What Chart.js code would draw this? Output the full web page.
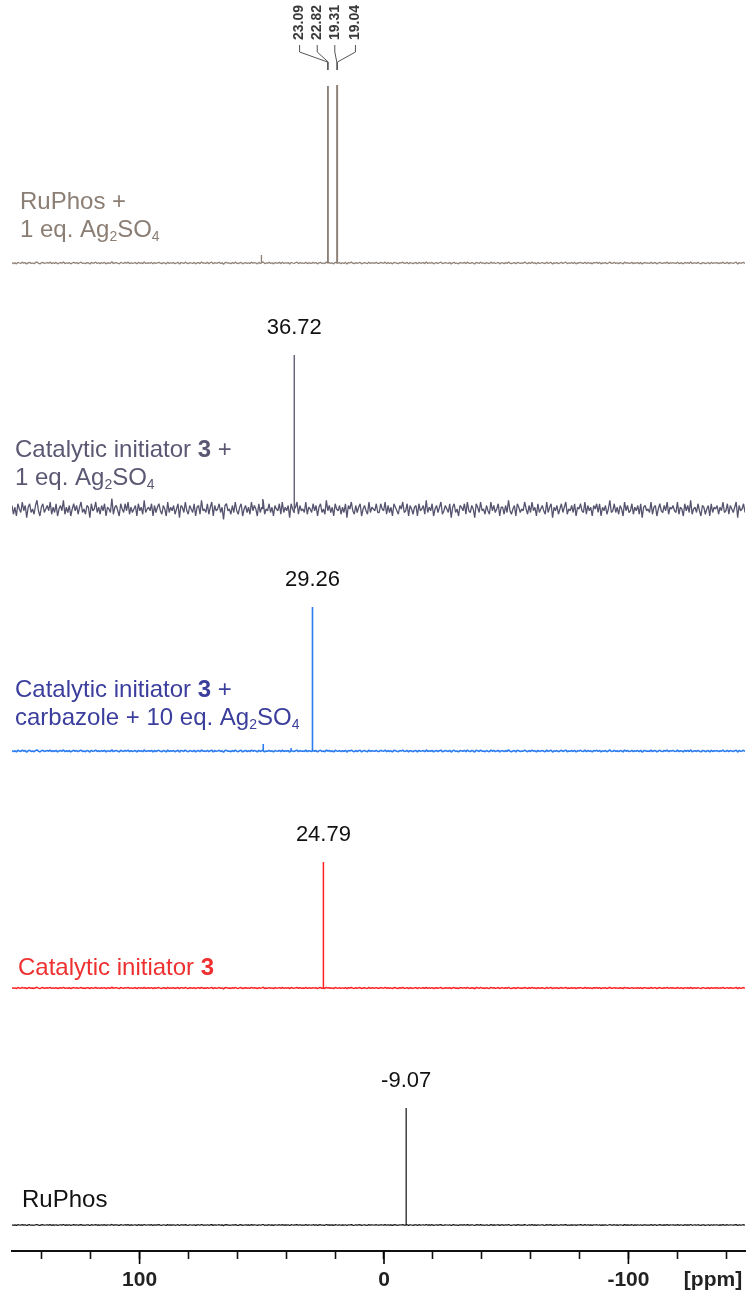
<!DOCTYPE html>
<html>
<head>
<meta charset="utf-8">
<script src="https://cdn.jsdelivr.net/npm/chart.js@4.4.1/dist/chart.umd.min.js"></script>
<style>
  html, body { margin: 0; padding: 0; background: #fff; }
</style>
</head>
<body>
<canvas id="nmr" width="748" height="1291"></canvas>
<script>
// ppm window of the spectra (axis is reversed, high ppm on the left)
const PPM_MAX = 152.2;
const PPM_MIN = -147.7;

const AXIS_TICKS = [140, 120, 100, 80, 60, 40, 20, 0, -20, -40, -60, -80, -100, -120, -140];
const AXIS_LABELS = [100, 0, -100];

// peak shifts (ppm) and heights for each trace, top to bottom
const ruphosAgShifts = [23.09, 22.82, 19.31, 19.04, 50.2];
const ruphosAgHeights = [177, 177, 178, 178, 8];

const catAgShifts = [36.72, 49.6];
const catAgHeights = [154, 10];

const catCarbShifts = [29.26, 49.4, 38.0];
const catCarbHeights = [144, 7, 3];

const catShifts = [24.79];
const catHeights = [126];

const ruphosShifts = [-9.07];
const ruphosHeights = [117];

// baseline noise, scaled per trace
const NOISE = [
  2,-3,1,-4,3,0,-2,4,-1,2,-5,1,3,-2,0,-3,2,5,-1,-4,1,3,-2,0,2,
  -1,4,-3,1,-2,3,-4,0,2,-1,5,-3,1,-2,2,-4,0,3,-1,2,-3,1,4,-2,0,
  -3,2,1,-5,3,-1,0,4,-2,1,-3,2,-1,3,-4,1,0,-2,6,-3,1,2,-1,-4,3,
  0,-2,3,-1,4,-3,1,-2,0,2,-4,3,-1,1,-3,5,-2,0,1,-1,3,-4,2,-2,1,
  3,-1,-3,2,0,-4,4,-2,1,-1,2,-3,0,3,-5,2,1,-2,4,-1,-3,2,0,-2,3,
  -4,1,2,-3,5,-1,0,-2,3,-3,1,4,-4,2,-1,0,3,-2,1,-6,2,3,-1,0,-3,
  2,-2,4,-1,-3,1,3,-4,0,2,-2,1,-3,4,-1,2,0,-4,3,-2,1,5,-3,0,-1,
  3,-2,1,-4,2,0,-1,3,-3,4,-2,1,-1,2,-5,3,0,-2,1,4,-3,2,-1,0,-2,
  4,-3,1,0,-2,3,-1,2,-4,1,3,-2,0,-3,5,-1,2,-2,1,-4,3,0,-1,2,-3,
  1,-2,3,-5,2,0,4,-1,-3,2,-2,1,3,-4,0,2,-1,-3,4,-2,1,0,-1,3,-2,
  -2,3,0,-1,4,-3,2,-2,1,-4,3,1,-1,-3,2,0,4,-2,-1,3,-4,2,0,-3,1,
  2,-4,3,-1,0,2,-3,5,-2,1,-1,3,-4,0,2,-2,1,4,-3,-1,2,0,-2,3,-5,
  1,3,-2,0,-4,2,1,-1,3,-3,4,-1,-2,2,0,-5,3,1,-2,4,-1,0,-3,2,-1,
  -3,4,-1,2,-2,0,3,-4,1,1,-3,2,-2,5,-1,-3,0,2,-4,3,1,-2,0,-1,4,
  0,-3,2,-2,4,-1,1,-4,3,-2,0,2,-1,-3,4,-2,1,3,-5,1,-1,2,-3,0,3,
  -2,1,4,-3,0,-1,2,-2,3,-4,1,0,3,-1,-2,4,-3,2,-1,1,-4,2,0,3,-2,
  3,-4,1,-1,2,-3,0,5,-2,-1,3,-2,1,-3,2,0,-4,4,-1,2,-2,-1,3,-3,1,
  -1,2,-3,3,-5,1,2,-1,0,-2,4,-3,1,2,-4,0,3,-1,-2,2,-1,4,-3,1,0,
  2,-1,-2,4,-3,1,0,-4,3,-1,2,-2,5,-3,0,1,-2,3,-1,-4,2,1,-3,0,2,
  -4,3,-2,1,0,2,-3,1,-1,4,-2,-1,3,-3,2,0,-2,1,4,-5,2,-1,0,3,-2
];
const NOISE_LEVEL = [0.22, 1.75, 0.22, 0.14, 0.1];

const SHIFTS = [ruphosAgShifts, catAgShifts, catCarbShifts, catShifts, ruphosShifts];
const HEIGHTS = [ruphosAgHeights, catAgHeights, catCarbHeights, catHeights, ruphosHeights];

// layout: vertical stacking offset of each trace (y units = px above the axis)
const OFFSETS = [988, 742, 500, 263, 26];
const LINE_COLORS = ['#8d8077', '#55536e', '#2b7cf0', '#ff2222', '#111111'];
const LINE_WIDTHS = [1.3, 1.3, 1.6, 1.5, 1.2];
const TEXT_COLORS = ['#8b7e74', '#5a5873', '#3b3e9c', '#ee3030', '#111111'];

const FONT = '"Liberation Sans", Arial, sans-serif';

const AG = [{ t: '1 eq. Ag' }, { t: '2', sub: true }, { t: 'SO' }, { t: '4', sub: true }];
const TITLES = [
  [[{ t: 'RuPhos +' }], AG],
  [[{ t: 'Catalytic initiator ' }, { t: '3', bold: true }, { t: ' +' }], AG],
  [[{ t: 'Catalytic initiator ' }, { t: '3', bold: true }, { t: ' +' }],
   [{ t: 'carbazole + 10 eq. Ag' }, { t: '2', sub: true }, { t: 'SO' }, { t: '4', sub: true }]],
  [[{ t: 'Catalytic initiator ' }, { t: '3', bold: true }]],
  [[{ t: 'RuPhos' }]]
];
const TITLE_X = [20, 15, 15, 18, 22];
const TITLE_RISE = [26, 24, 26, 13, 18];

// which peaks get a shift label
const LABELLED = [[0, 1, 2, 3], [0], [0], [0], [0]];
const ROTATED_OFFSETS = [-28, -11, -2, 18];


function buildTrace(k) {

    const pts = [];

    const step = (PPM_MAX - PPM_MIN) / (NOISE.length - 1);

    NOISE.forEach((n, i) => {
        pts.push({ x: PPM_MAX - i * step, y: OFFSETS[k] + n * NOISE_LEVEL[k] });
    });

    SHIFTS[k].forEach((s, j) => {
        const base = OFFSETS[k];
        pts.push({ x: s, y: base }, { x: s, y: base + HEIGHTS[k][j] }, { x: s, y: base });
    });

    pts.sort((a, b) => b.x - a.x);

    return pts;
}


function drawRich(ctx, x, y, parts, size, color) {

    let cx = x;

    parts.forEach(p => {
        const s = p.sub ? Math.round(size * 0.6) : size;
        ctx.font = (p.bold ? 'bold ' : '') + s + 'px ' + FONT;
        ctx.fillStyle = color;
        ctx.fillText(p.t, cx, y + (p.sub ? 4 : 0));
        cx += ctx.measureText(p.t).width;
    });
}


const annotations = {

    id: 'annotations',

    afterDatasetsDraw(chart) {

        const ctx = chart.ctx;
        const xs = chart.scales.x;
        const ys = chart.scales.y;

        ctx.save();
        ctx.textBaseline = 'alphabetic';
        ctx.textAlign = 'left';

        /* trace titles */
        TITLES.forEach((lines, k) => {
            const baseY = ys.getPixelForValue(OFFSETS[k]);
            lines.forEach((parts, i) => {
                const y = baseY - TITLE_RISE[k] - (lines.length - 1 - i) * 28.5;
                drawRich(ctx, TITLE_X[k], y, parts, 24, TEXT_COLORS[k]);
            });
        });

        /* horizontal shift labels */
        for (let k = 1; k < SHIFTS.length; k++) {
            LABELLED[k].forEach(j => {
                const px = xs.getPixelForValue(SHIFTS[k][j]);
                const top = ys.getPixelForValue(OFFSETS[k] + HEIGHTS[k][j]);
                ctx.font = '22px ' + FONT;
                ctx.fillStyle = '#111';
                ctx.textAlign = 'center';
                ctx.textBaseline = 'middle';
                ctx.fillText(SHIFTS[k][j].toFixed(2), px, top - 27);
            });
        }

        /* rotated labels with leader lines for the top trace */
        ctx.strokeStyle = '#555';
        ctx.lineWidth = 1;
        LABELLED[0].forEach((j, i) => {
            const px = xs.getPixelForValue(SHIFTS[0][j]);
            const lx = px + ROTATED_OFFSETS[i];
            ctx.save();
            ctx.translate(lx, 40);
            ctx.rotate(-Math.PI / 2);
            ctx.font = 'bold 14px ' + FONT;
            ctx.fillStyle = '#3a3a3a';
            ctx.textAlign = 'left';
            ctx.textBaseline = 'middle';
            ctx.fillText(SHIFTS[0][j].toFixed(2), 0, 0);
            ctx.restore();

            ctx.beginPath();
            ctx.moveTo(lx, 45);
            ctx.lineTo(lx, 52);
            ctx.lineTo(px, 62);
            ctx.lineTo(px, 70);
            ctx.stroke();
        });

        ctx.restore();
    },

    afterDraw(chart) {

        const ctx = chart.ctx;
        const xs = chart.scales.x;

        ctx.save();

        /* longer marks at the labelled ticks */
        ctx.strokeStyle = '#000';
        ctx.lineWidth = 1.6;
        AXIS_LABELS.forEach(v => {
            const x = xs.getPixelForValue(v);
            ctx.beginPath();
            ctx.moveTo(x, xs.top);
            ctx.lineTo(x, xs.top + 13);
            ctx.stroke();
        });

        /* unit */
        ctx.font = 'bold 21px ' + FONT;
        ctx.fillStyle = '#222';
        ctx.textAlign = 'center';
        ctx.textBaseline = 'middle';
        ctx.fillText('[ppm]', chart.chartArea.right - 32, xs.top + 29);

        ctx.restore();
    }
};


new Chart(document.getElementById('nmr'), {

    type: 'line',

    data: {
        datasets: SHIFTS.map((_, k) => ({
            data: buildTrace(k),
            borderColor: LINE_COLORS[k],
            borderWidth: LINE_WIDTHS[k],
            borderJoinStyle: 'bevel',
            pointRadius: 0,
            tension: 0,
            fill: false
        }))
    },

    options: {
        responsive: false,
        animation: false,
        devicePixelRatio: 1,
        layout: {
            padding: { left: 12, right: 3, top: 0, bottom: 0 }
        },
        plugins: {
            legend: { display: false },
            tooltip: { enabled: false }
        },
        scales: {
            x: {
                type: 'linear',
                reverse: true,
                min: PPM_MIN,
                max: PPM_MAX,
                afterBuildTicks(scale) {
                    scale.ticks = AXIS_TICKS.map(v => ({ value: v }));
                },
                afterFit(scale) {
                    scale.height = 40;
                },
                border: { display: true, color: '#111', width: 2 },
                grid: {
                    drawOnChartArea: false,
                    drawTicks: true,
                    tickLength: 8,
                    tickWidth: 1.6,
                    tickColor: '#111'
                },
                ticks: {
                    autoSkip: false,
                    maxRotation: 0,
                    padding: 9,
                    color: '#222',
                    font: { family: FONT, size: 21, weight: 'bold' },
                    callback: v => AXIS_LABELS.includes(v) ? String(v) : ''
                }
            },
            y: {
                display: false,
                min: 0,
                max: 1251
            }
        }
    },

    plugins: [annotations]
});
</script>
</body>
</html>
